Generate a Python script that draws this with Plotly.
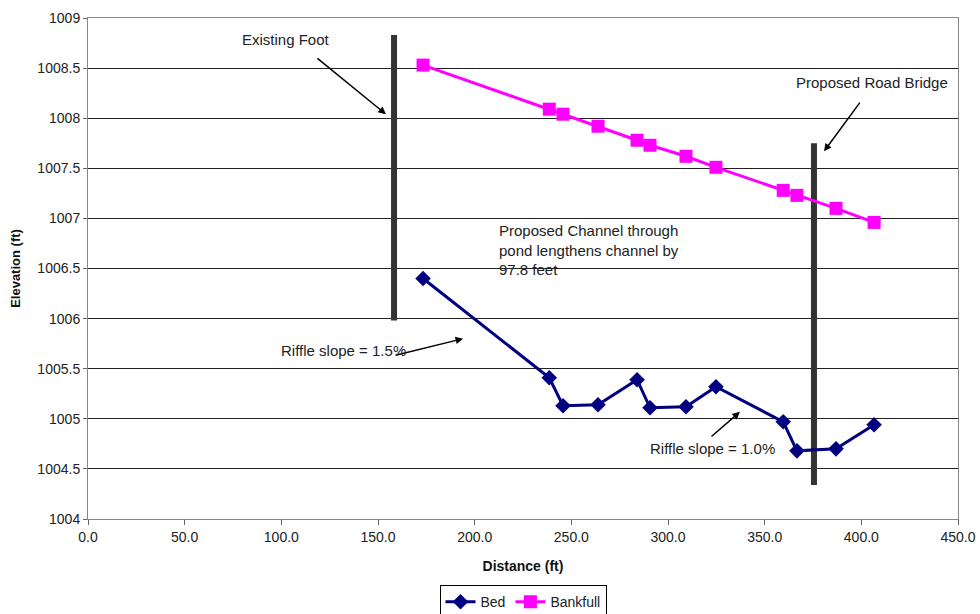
import plotly.graph_objects as go

dist = [173.3, 238.6, 245.7, 263.8, 284.0, 290.7, 309.3, 324.8, 359.6, 366.7, 386.9, 406.6]
bed = [1006.40, 1005.41, 1005.13, 1005.14, 1005.39, 1005.11, 1005.12, 1005.32, 1004.97, 1004.68, 1004.70, 1004.94]
bankfull = [1008.53, 1008.09, 1008.04, 1007.92, 1007.78, 1007.73, 1007.62, 1007.51, 1007.28, 1007.23, 1007.10, 1006.96]

foot_x = [158.3, 158.3]
foot_y = [1005.98, 1008.83]
bridge_x = [375.5, 375.5]
bridge_y = [1004.34, 1007.75]

FONT = "Liberation Sans, Arial, sans-serif"

fig = go.Figure()
fig.add_trace(go.Scatter(x=foot_x, y=foot_y, mode="lines", line=dict(color="#333333", width=6),
                         showlegend=False, hoverinfo="skip"))
fig.add_trace(go.Scatter(x=bridge_x, y=bridge_y, mode="lines", line=dict(color="#333333", width=6),
                         showlegend=False, hoverinfo="skip"))
fig.add_trace(go.Scatter(x=dist, y=bed, mode="lines+markers", name="Bed",
                         line=dict(color="#000080", width=3),
                         marker=dict(symbol="diamond", size=12, color="#000080")))
fig.add_trace(go.Scatter(x=dist, y=bankfull, mode="lines+markers", name="Bankfull",
                         line=dict(color="#FF00FF", width=3),
                         marker=dict(symbol="square", size=13, color="#FF00FF")))

ann_font = dict(family=FONT, size=15, color="#222222")
arrow = dict(showarrow=True, arrowhead=2, arrowsize=1, arrowwidth=1.5, arrowcolor="black",
             xref="x", yref="y", axref="x", ayref="y", text="")
annotations = [
    dict(x=154.1, y=1008.04, ax=117.9, ay=1008.61, **arrow),
    dict(x=380.7, y=1007.67, ax=399.8, ay=1008.17, **arrow),
    dict(x=194.0, y=1005.80, ax=158.3, ay=1005.63, **arrow),
    dict(x=337.2, y=1005.07, ax=321.7, ay=1004.81, **arrow),
    dict(x=102.4, y=1008.79, text="Existing Foot", showarrow=False, xref="x", yref="y",
         xanchor="center", yanchor="middle", font=ann_font),
    dict(x=405.5, y=1008.36, text="Proposed Road Bridge", showarrow=False, xref="x", yref="y",
         xanchor="center", yanchor="middle", font=ann_font),
    dict(x=98.8, y=1005.68, text="Riffle slope = 1.5%", showarrow=False, xref="x", yref="y",
         xanchor="left", yanchor="middle", font=ann_font),
    dict(x=289.7, y=1004.70, text="Riffle slope = 1.0%", showarrow=False, xref="x", yref="y",
         xanchor="left", yanchor="middle", font=ann_font),
    dict(x=211.5, y=1006.98, text="Proposed Channel through<br>pond lengthens channel by<br>97.8 feet",
         showarrow=False, xref="x", yref="y", xanchor="left", yanchor="top", align="left",
         font=ann_font),
]

fig.update_layout(
    width=980, height=614,
    margin=dict(l=88, r=22, t=18, b=95),
    paper_bgcolor="white", plot_bgcolor="white",
    font=dict(family=FONT, size=14, color="#222222"),
    annotations=annotations,
    legend=dict(orientation="h", x=0.5, xanchor="center", xref="paper",
                y=0.047, yanchor="top", yref="container",
                bordercolor="black", borderwidth=1, bgcolor="white",
                font=dict(family=FONT, size=14, color="#222222"),
                itemwidth=30, tracegroupgap=0),
    showlegend=True,
)
fig.update_xaxes(range=[0, 450], tickvals=[0, 50, 100, 150, 200, 250, 300, 350, 400, 450],
                 tickformat=".1f", showgrid=False, zeroline=False, automargin=False,
                 ticks="outside", ticklen=5, tickcolor="#666666",
                 tickfont=dict(family=FONT, size=14, color="#222222"),
                 showline=True, linecolor="#888888", linewidth=1, mirror=True,
                 title=dict(text="<b>Distance (ft)</b>", font=dict(family=FONT, size=14, color="#111111"),
                            standoff=17))
fig.update_yaxes(range=[1004, 1009], dtick=0.5, showgrid=True, gridcolor="#222222", gridwidth=1,
                 zeroline=False, ticks="outside", ticklen=4, tickcolor="#666666", automargin=False,
                 tickfont=dict(family=FONT, size=14, color="#222222"),
                 showline=True, linecolor="#888888", linewidth=1, mirror=True,
                 tickformat="~f",
                 title=dict(text="<b>Elevation (ft)</b>", font=dict(family=FONT, size=13, color="#111111"),
                            standoff=13))

fig.write_html("out.html", config={"displayModeBar": False},
               post_script="document.body.style.margin='0';document.body.style.overflow='hidden';")
